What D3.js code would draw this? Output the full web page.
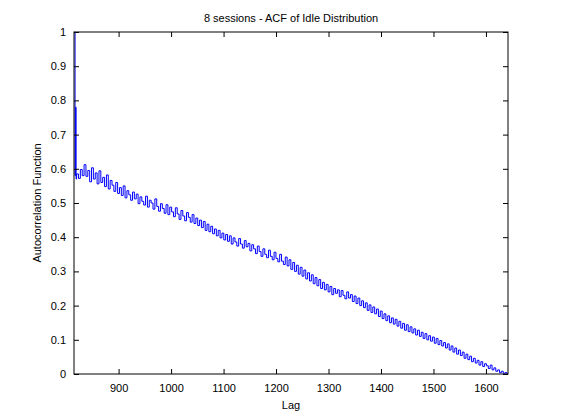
<!DOCTYPE html><html><head><meta charset="utf-8"><script src="https://cdn.jsdelivr.net/npm/d3@7"></script>
<style>body{margin:0;background:#fff}text{font-family:"Liberation Sans",Arial,sans-serif;font-size:11px}</style></head><body><svg width="561" height="420"></svg><script>
const headLags=[816,817,818,819];
const headVals=[1.0,0.58,0.78,0.57];
const startLag=820, step=3;
const vals=[.585,.572,.598,.580,.612,.578,.595,.562,.603,.570,.588,.556,.594,.560,.575,.548,.582,.541,.566,.552,
.534,.560,.528,.545,.522,.550,.515,.536,.524,.508,.532,.512,.526,.498,.518,.505,.494,.520,.488,.508,
.500,.482,.512,.490,.476,.498,.484,.470,.495,.466,.488,.474,.460,.486,.468,.452,.478,.462,.448,.472,
.458,.444,.466,.440,.456,.434,.450,.428,.446,.420,.438,.416,.432,.410,.424,.404,.420,.398,.412,.392,
.408,.388,.404,.380,.398,.386,.374,.396,.380,.368,.390,.372,.382,.360,.378,.366,.352,.374,.358,.344,
.366,.350,.340,.362,.344,.334,.356,.338,.328,.350,.330,.320,.342,.316,.334,.306,.326,.300,.318,.292,
.312,.286,.304,.278,.296,.272,.290,.264,.282,.258,.276,.250,.268,.246,.262,.240,.256,.232,.250,.236,
.246,.226,.244,.230,.220,.240,.222,.232,.212,.228,.206,.222,.200,.214,.194,.208,.186,.202,.180,.196,
.176,.190,.168,.184,.162,.176,.156,.170,.150,.164,.146,.160,.140,.154,.134,.148,.128,.144,.124,.138,
.120,.132,.114,.128,.110,.122,.104,.118,.100,.112,.096,.108,.090,.104,.086,.098,.082,.092,.076,.088,
.070,.082,.064,.076,.058,.070,.054,.064,.046,.058,.042,.052,.036,.046,.032,.040,.026,.036,.022,.030,
.024,.016,.026,.012,.018,.008,.012,.004,.008,.002,.004,.000];
const xTicks=[900,1000,1100,1200,1300,1400,1500,1600];
const yTicks=[0,0.1,0.2,0.3,0.4,0.5,0.6,0.7,0.8,0.9,1];
const data=headLags.map((l,i)=>[l,headVals[i]]).concat(vals.map((v,i)=>[startLag+i*step*(1640-820)/(step*(vals.length-1)),v]));
const L=74,R=508,T=32,B=374;
const x=d3.scaleLinear().domain([815,1642]).range([L,R]);
const y=d3.scaleLinear().domain([0,1]).range([B,T]);
const svg=d3.select("svg");
svg.append("path").datum(data).attr("fill","none").attr("stroke","#0000ff").attr("stroke-width",1)
 .attr("d",d3.line().curve(d3.curveStepAfter).x(d=>x(d[0])).y(d=>y(d[1])));
const ax=(g,a)=>{g.call(a);g.select(".domain").remove();g.selectAll("line").attr("stroke","#000");g.selectAll("text").attr("fill","#000").style("font-size","11px");};
svg.append("g").attr("transform",`translate(0,${B})`).call(g=>ax(g,d3.axisBottom(x).tickValues(xTicks).tickSize(-5).tickPadding(10).tickFormat(d3.format("d"))));
svg.append("g").attr("transform",`translate(0,${T})`).call(g=>ax(g,d3.axisTop(x).tickValues(xTicks).tickSize(-5).tickFormat("")));
svg.append("g").attr("transform",`translate(${L},0)`).call(g=>ax(g,d3.axisLeft(y).tickValues(yTicks).tickSize(-5).tickPadding(8).tickFormat(d=>d3.format("")(+d.toFixed(1)))));
svg.append("g").attr("transform",`translate(${R},0)`).call(g=>ax(g,d3.axisRight(y).tickValues(yTicks).tickSize(-5).tickFormat("")));
svg.append("rect").attr("x",L).attr("y",T).attr("width",R-L).attr("height",B-T).attr("fill","none").attr("stroke","#000");
svg.append("text").attr("x",(L+R)/2).attr("y",22).attr("text-anchor","middle").text("8 sessions - ACF of Idle Distribution");
svg.append("text").attr("x",(L+R)/2).attr("y",409).attr("text-anchor","middle").text("Lag");
svg.append("text").attr("transform",`translate(41,${(T+B)/2}) rotate(-90)`).attr("text-anchor","middle").text("Autocorrelation Function");
</script></body></html>
